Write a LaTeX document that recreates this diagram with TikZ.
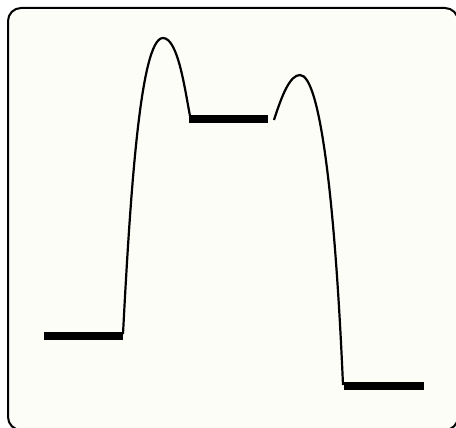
\documentclass[tikz,border=0pt]{standalone}
\begin{document}
\begin{tikzpicture}[x=1pt,y=-1pt,
  level/.style={line width=8pt},
  barrier/.style={line width=2.2pt},
  frame/.style={line width=2pt, rounded corners=13pt, fill=bgc}]
\definecolor{bgc}{HTML}{FDFDF8}
\useasboundingbox (0,0) rectangle (456,428);
\begin{scope}
\clip (0,0) rectangle (456,428);
\draw[frame] (8,8) rectangle (458,430);
\end{scope}
\coordinate (a1) at (44,336);
\coordinate (a2) at (123,336);
\coordinate (b1) at (189,119.5);
\coordinate (b2) at (268,119.5);
\coordinate (c1) at (344,385.5);
\coordinate (c2) at (424,385.5);
\coordinate (p1) at (163,38);
\coordinate (p2) at (300,75);
\draw[level] (a1) -- (a2);
\draw[level] (b1) -- (b2);
\draw[level] (c1) -- (c2);
\draw[barrier] (123,334) .. controls (130,200) and (140,38) .. (p1)
  .. controls (178,38) and (185,90) .. (190,116);
\draw[barrier] (274,120) .. controls (282,95) and (290,75) .. (p2)
  .. controls (320,75) and (335,200) .. (343,385);
\end{tikzpicture}
\end{document}
